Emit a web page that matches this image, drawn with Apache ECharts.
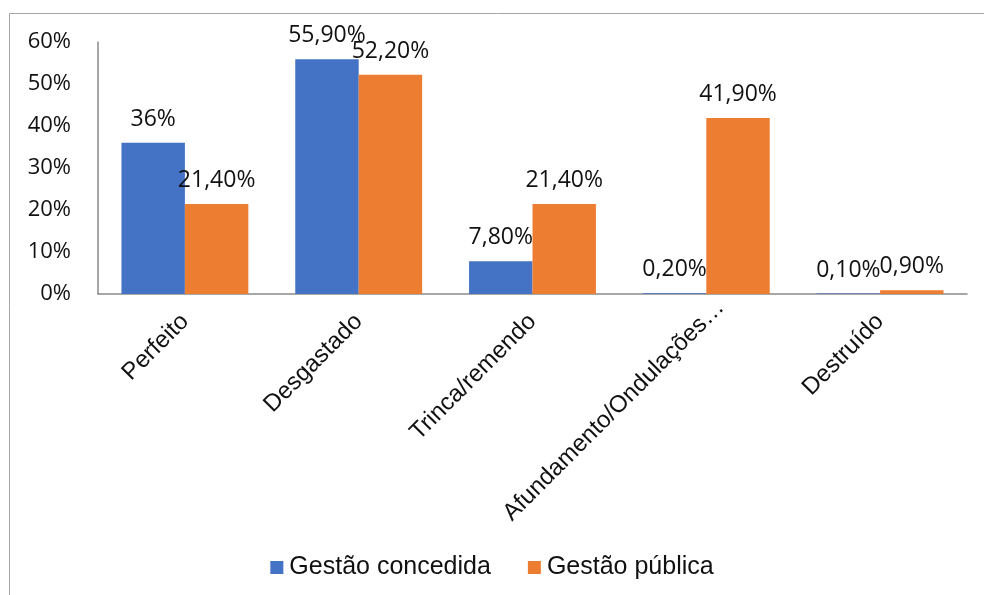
<!DOCTYPE html>
<html>
<head>
<meta charset="utf-8">
<script src="https://cdn.jsdelivr.net/npm/echarts@6/dist/echarts.min.js"></script>
<style>
  html, body { margin: 0; padding: 0; background: #fff; }
  #chart { width: 984px; height: 595px; }
</style>
</head>
<body>
<div id="chart"></div>
<script>
// Pavement condition by type of road management (% of network)
const categories = ['Perfeito', 'Desgastado', 'Trinca/remendo', 'Afundamento/Ondulações…', 'Destruído'];
const seriesNames = ['Gestão concedida', 'Gestão pública'];
const concedida = [36, 55.9, 7.8, 0.2, 0.1];
const publica = [21.4, 52.2, 21.4, 41.9, 0.9];
const yTicks = [0, 10, 20, 30, 40, 50, 60];

const colors = ['#4472C4', '#ED7D31'];
const textColor = '#111111';
const axisGray = '#8a8a8a';

// "36%" for whole numbers, "21,40%" otherwise (pt-BR decimal comma)
function pct(v) {
  return Number.isInteger(v) ? v + '%' : v.toFixed(2).replace('.', ',') + '%';
}

// the truncated long label sits a little further along its slant
const categoryItems = categories.map(c =>
  c.endsWith('…') ? { value: c, textStyle: { padding: [0, -20, 0, 0] } } : c
);

const chart = echarts.init(document.getElementById('chart'));

const labelStyle = {
  show: true,
  position: 'top',
  distance: 12,
  color: textColor,
  fontFamily: 'Open Sans',
  fontSize: 23,
  formatter: p => pct(p.value)
};

chart.setOption({
  animation: false,
  backgroundColor: '#fff',
  graphic: [{
    type: 'rect',
    shape: { x: 9.5, y: 13.5, width: 1000, height: 1000 },
    style: { fill: 'none', stroke: '#a6a6a6', lineWidth: 1 },
    silent: true
  }],
  grid: { left: 98, right: 17, top: 42, bottom: 301, containLabel: false },
  legend: {
    data: seriesNames,
    left: 'center',
    top: 550,
    icon: 'rect',
    itemWidth: 13,
    itemHeight: 13,
    itemGap: 37,
    textStyle: { color: textColor, fontFamily: 'Liberation Sans', fontSize: 25, padding: [0, 0, 0, 1] }
  },
  xAxis: {
    type: 'category',
    data: categoryItems,
    axisLine: { show: true, lineStyle: { color: axisGray, width: 1.5 } },
    axisTick: { show: false },
    axisLabel: {
      interval: 0,
      rotate: 45,
      margin: 24,
      color: textColor,
      fontFamily: 'Liberation Sans',
      fontSize: 24
    }
  },
  yAxis: {
    type: 'value',
    min: yTicks[0],
    max: yTicks[yTicks.length - 1],
    interval: 10,
    axisLine: { show: true, lineStyle: { color: axisGray, width: 1.5 } },
    axisTick: { show: false },
    splitLine: { show: false },
    axisLabel: {
      margin: 27,
      color: textColor,
      fontFamily: 'Open Sans',
      fontSize: 22,
      formatter: v => v + '%'
    }
  },
  series: [
    {
      name: seriesNames[0],
      type: 'bar',
      data: concedida,
      barGap: '0%',
      barCategoryGap: '27%',
      itemStyle: { color: colors[0] },
      label: labelStyle
    },
    {
      name: seriesNames[1],
      type: 'bar',
      data: publica,
      barGap: '0%',
      barCategoryGap: '27%',
      itemStyle: { color: colors[1] },
      label: labelStyle
    }
  ]
});
</script>
</body>
</html>
